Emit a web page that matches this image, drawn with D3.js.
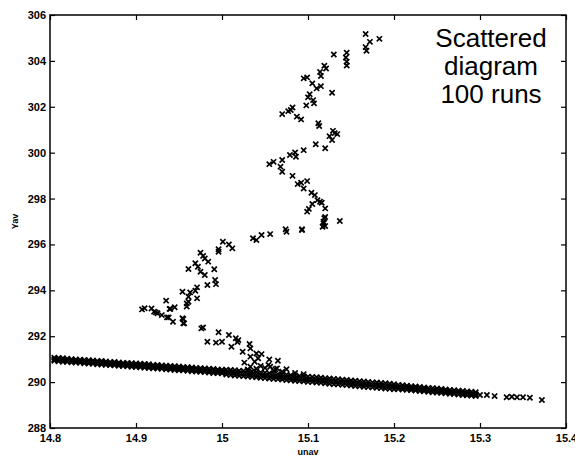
<!DOCTYPE html>
<html>
<head>
<meta charset="utf-8">
<script src="https://cdn.jsdelivr.net/npm/d3@7"></script>
<style>
  body { margin: 0; background: #fff; }
  svg { display: block; }
  .tick text { font-family: "Liberation Sans", Arial, sans-serif; font-weight: bold; font-size: 11px; fill: #000; }
</style>
</head>
<body>
<div id="chart"></div>
<script>
// axis ticks
const xTicks = [14.8, 14.9, 15, 15.1, 15.2, 15.3, 15.4];
const yTicks = [288, 290, 292, 294, 296, 298, 300, 302, 304, 306];

// the dense lower band: upper edge, middle and lower edge of the cloud of runs
const bandX = [
  14.805, 14.810, 14.815, 14.820, 14.825, 14.830, 14.835, 14.840, 14.845, 14.850,
  14.855, 14.860, 14.865, 14.870, 14.875, 14.880, 14.885, 14.890, 14.895, 14.900,
  14.905, 14.910, 14.915, 14.920, 14.925, 14.930, 14.935, 14.940, 14.945, 14.950,
  14.955, 14.960, 14.965, 14.970, 14.975, 14.980, 14.985, 14.990, 14.995, 15.000,
  15.005, 15.010, 15.015, 15.020, 15.025, 15.030, 15.035, 15.040, 15.045, 15.050,
  15.055, 15.060, 15.065, 15.070, 15.075, 15.080, 15.085, 15.090, 15.095, 15.100,
  15.105, 15.110, 15.115, 15.120, 15.125, 15.130, 15.135, 15.140, 15.145, 15.150,
  15.155, 15.160, 15.165, 15.170, 15.175, 15.180, 15.185, 15.190, 15.195, 15.200,
  15.205, 15.210, 15.215, 15.220, 15.225, 15.230, 15.235, 15.240, 15.245, 15.250,
  15.255, 15.260, 15.265, 15.270, 15.275, 15.280, 15.285, 15.290, 15.295
];
const bandTop = [
  291.06, 291.05, 291.04, 291.02, 291.00, 290.99, 290.98, 290.97, 290.95, 290.94,
  290.92, 290.92, 290.90, 290.88, 290.88, 290.86, 290.84, 290.84, 290.82, 290.81,
  290.80, 290.79, 290.78, 290.75, 290.75, 290.73, 290.72, 290.70, 290.69, 290.68,
  290.66, 290.65, 290.64, 290.62, 290.61, 290.59, 290.58, 290.57, 290.55, 290.54,
  290.54, 290.53, 290.52, 290.50, 290.49, 290.47, 290.46, 290.44, 290.42, 290.41,
  290.39, 290.37, 290.35, 290.34, 290.32, 290.30, 290.29, 290.27, 290.25, 290.24,
  290.22, 290.21, 290.19, 290.17, 290.16, 290.14, 290.13, 290.10, 290.09, 290.07,
  290.06, 290.04, 290.03, 290.01, 289.99, 289.98, 289.96, 289.95, 289.93, 289.91,
  289.88, 289.86, 289.84, 289.82, 289.81, 289.79, 289.77, 289.75, 289.74, 289.72,
  289.70, 289.68, 289.66, 289.65, 289.63, 289.61, 289.59, 289.58, 289.56
];
const bandMid = [
  290.99, 290.97, 290.96, 290.95, 290.93, 290.92, 290.90, 290.89, 290.88, 290.86,
  290.85, 290.84, 290.82, 290.81, 290.80, 290.78, 290.77, 290.76, 290.74, 290.73,
  290.72, 290.70, 290.69, 290.67, 290.66, 290.65, 290.63, 290.62, 290.60, 290.59,
  290.58, 290.56, 290.55, 290.53, 290.52, 290.51, 290.49, 290.48, 290.46, 290.45,
  290.43, 290.42, 290.40, 290.39, 290.37, 290.35, 290.34, 290.32, 290.30, 290.29,
  290.27, 290.25, 290.24, 290.22, 290.21, 290.19, 290.17, 290.16, 290.14, 290.12,
  290.11, 290.09, 290.08, 290.06, 290.04, 290.03, 290.01, 289.99, 289.98, 289.96,
  289.94, 289.93, 289.91, 289.90, 289.88, 289.86, 289.85, 289.83, 289.82, 289.80,
  289.78, 289.76, 289.75, 289.73, 289.71, 289.69, 289.68, 289.66, 289.64, 289.62,
  289.61, 289.59, 289.57, 289.55, 289.54, 289.52, 289.50, 289.48, 289.47
];
const bandBot = [
  290.93, 290.91, 290.89, 290.88, 290.86, 290.85, 290.84, 290.82, 290.81, 290.80,
  290.78, 290.77, 290.75, 290.74, 290.73, 290.71, 290.70, 290.69, 290.67, 290.66,
  290.65, 290.63, 290.61, 290.60, 290.59, 290.58, 290.56, 290.55, 290.53, 290.52,
  290.51, 290.49, 290.47, 290.46, 290.45, 290.44, 290.42, 290.40, 290.39, 290.38,
  290.33, 290.31, 290.29, 290.28, 290.26, 290.24, 290.23, 290.21, 290.19, 290.18,
  290.16, 290.14, 290.13, 290.11, 290.09, 290.08, 290.06, 290.05, 290.03, 290.01,
  290.00, 289.98, 289.97, 289.95, 289.93, 289.91, 289.90, 289.88, 289.87, 289.85,
  289.83, 289.82, 289.80, 289.79, 289.77, 289.75, 289.74, 289.72, 289.71, 289.69,
  289.70, 289.68, 289.67, 289.65, 289.63, 289.61, 289.60, 289.58, 289.56, 289.55,
  289.53, 289.51, 289.49, 289.48, 289.46, 289.44, 289.42, 289.41, 289.39
];

// sparse tail to the right of the band
const tailX = [15.300, 15.308, 15.317, 15.331, 15.337, 15.343, 15.350, 15.358, 15.372];
const tailY = [289.44, 289.44, 289.39, 289.34, 289.36, 289.34, 289.34, 289.32, 289.22];

// runs that left the band (zig-zag branch)
const branch = [
  [15.167,305.17],[15.183,304.96],[15.172,304.83],[15.167,304.6],[15.168,304.44],
  [15.130,304.28],[15.145,304.36],[15.144,304.15],[15.145,303.96],[15.145,303.8],
  [15.119,303.79],[15.121,303.67],[15.114,303.52],[15.115,303.34],[15.095,303.24],[15.099,303.28],
  [15.105,303.02],[15.110,302.8],[15.115,302.9],[15.128,302.61],[15.102,302.55],[15.100,302.41],
  [15.106,302.29],[15.107,302.15],[15.098,302.06],[15.082,301.97],[15.080,301.86],[15.077,301.81],
  [15.070,301.68],[15.087,301.57],[15.092,301.45],[15.112,301.28],[15.113,301.16],
  [15.129,300.95],[15.134,300.81],[15.125,300.72],[15.128,300.55],[15.131,300.85],
  [15.109,300.37],[15.120,300.19],[15.095,300.11],[15.085,300.01],[15.086,299.82],[15.079,299.9],
  [15.070,299.68],[15.060,299.6],[15.055,299.5],[15.068,299.39],[15.070,299.17],[15.082,298.99],
  [15.088,298.63],[15.092,298.69],[15.099,298.76],[15.095,298.44],[15.104,298.25],[15.108,298.15],
  [15.111,297.93],[15.114,297.86],[15.116,297.82],[15.105,297.76],[15.120,297.57],[15.099,297.43],[15.101,297.55],
  [15.137,297.02],[15.119,297.14],[15.120,297.2],[15.118,296.99],[15.118,296.92],[15.117,296.77],[15.120,296.8],
  [15.074,296.66],[15.093,296.66],[15.093,296.63],[15.075,296.55],[15.056,296.45],[15.046,296.41],
  [15.040,296.19],[15.036,296.27],[15.012,295.83],[15.008,296.0],[15.001,296.12],[14.996,295.79],[14.996,295.68],
  [14.975,295.64],[14.978,295.5],[14.980,295.39],[14.984,295.25],[14.969,295.18],[14.972,295.03],
  [14.961,294.93],[14.991,294.92],[14.975,294.81],[14.980,294.67],[14.992,294.45],[14.993,294.27],
  [14.983,294.23],[14.971,294.13],[14.969,293.98],[14.963,293.91],[14.954,293.94],[14.961,293.72],
  [14.971,293.65],[14.961,293.5],[14.959,293.29],[14.935,293.55],[14.945,293.26],[14.939,293.19],
  [14.930,292.92],[14.938,292.82],[14.943,292.63],[14.918,293.21],[14.923,293.04],[14.955,292.75],[14.955,292.56],
  [14.907,293.17],[14.910,293.22],[14.921,293.07],[14.925,293.0],[14.936,292.82],[14.940,293.19],
  [14.954,292.78],[14.956,292.56],[14.959,293.43],
  [14.976,292.34],[14.978,292.38],[14.996,292.17],[14.983,291.76],[14.993,291.72],[15.000,291.76],
  [15.008,292.05],[15.011,291.54],[15.016,291.91],[15.019,291.83],[15.018,291.75],[15.032,291.66],
  [15.033,291.47],[15.024,291.32],[15.033,291.11],[15.040,291.25],[15.046,291.22],[15.042,291.04],
  [15.038,290.89],[15.026,290.85],[15.055,290.99],[15.054,290.75],[15.065,290.93],[15.064,290.6],
  [15.075,290.56],[15.033,290.67],[15.045,290.7],[15.050,290.62],[15.040,290.58],[15.060,290.5],
  [15.070,290.45],[15.085,290.4],[15.095,290.35],[15.030,290.55],[15.056,290.67],[15.062,290.56]
];

const labelLines = ["Scattered", "diagram", "100 runs"];

const width = 575, height = 457;
const margin = { top: 15, right: 9, bottom: 29, left: 50 };

const svg = d3.select("#chart").append("svg")
  .attr("width", width)
  .attr("height", height)
  .style("background", "#fff");

const x = d3.scaleLinear().domain([14.8, 15.4]).range([margin.left, width - margin.right]);
const y = d3.scaleLinear().domain([288, 306]).range([height - margin.bottom, margin.top]);

// all the points
const points = [];
bandX.forEach((v, i) => {
  points.push([v, bandTop[i]]);
  points.push([v, bandMid[i]]);
  points.push([v, bandBot[i]]);
});
tailX.forEach((v, i) => points.push([v, tailY[i]]));
branch.forEach(d => points.push(d));

const cross = "M-2.6,-2.6L2.6,2.6M-2.6,2.6L2.6,-2.6";
svg.append("g")
  .selectAll("path")
  .data(points)
  .enter()
  .append("path")
  .attr("transform", d => `translate(${x(d[0])},${y(d[1])})`)
  .attr("d", cross)
  .attr("fill", "none")
  .attr("stroke", "#000")
  .attr("stroke-width", 1.7);

// axes, MATLAB style ticks pointing inwards
const fmt = d => d3.format("")(+d.toFixed(1));
svg.append("g")
  .attr("transform", `translate(0,${y(288)})`)
  .call(d3.axisBottom(x).tickValues(xTicks).tickFormat(fmt).tickSizeInner(-5).tickSizeOuter(0).tickPadding(6))
  .call(g => g.select(".domain").remove());
svg.append("g")
  .attr("transform", `translate(0,${y(306)})`)
  .call(d3.axisTop(x).tickValues(xTicks).tickFormat("").tickSizeInner(-5).tickSizeOuter(0))
  .call(g => g.select(".domain").remove());
svg.append("g")
  .attr("transform", `translate(${x(14.8)},0)`)
  .call(d3.axisLeft(y).tickValues(yTicks).tickSizeInner(-5).tickSizeOuter(0).tickPadding(4))
  .call(g => g.select(".domain").remove());
svg.append("g")
  .attr("transform", `translate(${x(15.4)},0)`)
  .call(d3.axisRight(y).tickValues(yTicks).tickFormat("").tickSizeInner(-5).tickSizeOuter(0))
  .call(g => g.select(".domain").remove());

svg.selectAll(".tick line").attr("stroke", "#000").attr("stroke-width", 1.2);

svg.append("rect")
  .attr("x", x(14.8))
  .attr("y", y(306))
  .attr("width", x(15.4) - x(14.8))
  .attr("height", y(288) - y(306))
  .attr("fill", "none")
  .attr("stroke", "#000")
  .attr("stroke-width", 1.5);

// axis titles
svg.append("text")
  .attr("x", (x(14.8) + x(15.4)) / 2)
  .attr("y", 455)
  .attr("text-anchor", "middle")
  .style("font-family", "Liberation Sans, Arial, sans-serif")
  .style("font-weight", "bold")
  .style("font-size", "9px")
  .text("unav");

svg.append("text")
  .attr("transform", `translate(18,${(y(288) + y(306)) / 2}) rotate(-90)`)
  .attr("text-anchor", "middle")
  .style("font-family", "Liberation Sans, Arial, sans-serif")
  .style("font-weight", "bold")
  .style("font-size", "9px")
  .text("Yav");

// annotation
svg.append("g")
  .selectAll("text")
  .data(labelLines)
  .enter()
  .append("text")
  .attr("x", 491)
  .attr("y", (d, i) => 47 + i * 28)
  .attr("text-anchor", "middle")
  .style("font-family", "Liberation Sans, Arial, sans-serif")
  .style("font-size", "26px")
  .style("fill", "#000")
  .text(d => d);
</script>
</body>
</html>
